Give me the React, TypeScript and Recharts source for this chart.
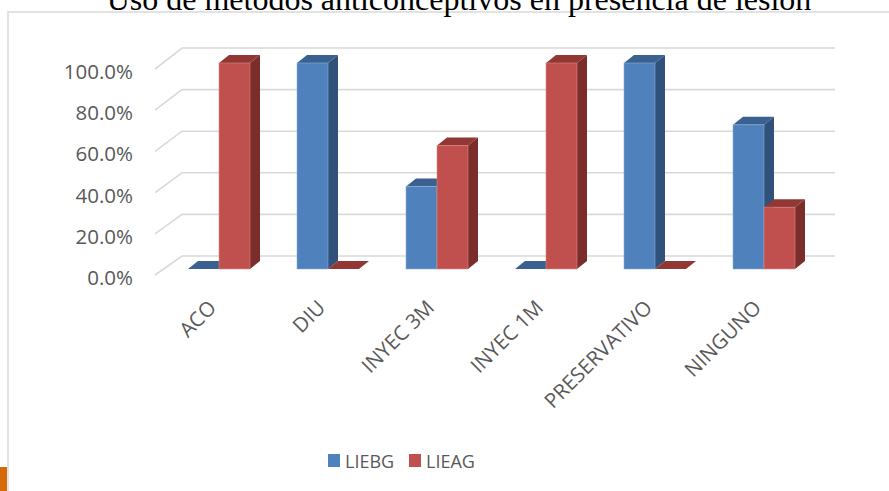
import React from 'react';
import { BarChart, Bar, XAxis, YAxis, CartesianGrid } from 'recharts';

const categories = ['ACO', 'DIU', 'INYEC 3M', 'INYEC 1M', 'PRESERVATIVO', 'NINGUNO'];
const liebgValues = [0, 1, 0.4, 0, 1, 0.7];
const lieagValues = [1, 0, 0.6, 1, 0, 0.3];
const yTicks = [0, 0.2, 0.4, 0.6, 0.8, 1];
const seriesNames = ['LIEBG', 'LIEAG'];
const titleText = 'Uso de métodos anticonceptivos en presencia de lesión';

const data = categories.map((c, i) => ({ cat: c, LIEBG: liebgValues[i], LIEAG: lieagValues[i] }));

const W = 889;
const H = 491;
const FONT = '"Open Sans", sans-serif';
const TEXT_COLOR = '#595959';

const PALETTE: Record<string, { front: string; top: string; side: string; edge: string }> = {
  LIEBG: { front: '#4F81BD', top: '#3A6190', side: '#30527A', edge: '#8FB0DA' },
  LIEAG: { front: '#C0504D', top: '#923734', side: '#7B2D2B', edge: '#DC8C8A' },
};

const DX = 10;
const DY = 8;

const make3D = (key: string) => (props: any) => {
  const { x, y, width, height } = props;
  const c = PALETTE[key];
  const h = Math.max(0, height || 0);
  const top = `M${x},${y} L${x + DX},${y - DY} L${x + width + DX},${y - DY} L${x + width},${y} Z`;
  const side = `M${x + width},${y} L${x + width + DX},${y - DY} L${x + width + DX},${y + h - DY} L${x + width},${y + h} Z`;
  return (
    <g>
      {h > 0 && <path d={side} fill={c.side} />}
      <path d={top} fill={c.top} />
      {h > 0 && <rect x={x} y={y} width={width} height={h} fill={c.front} stroke={c.edge} strokeWidth={0.8} strokeOpacity={0.7} />}
    </g>
  );
};

const gridLine = (p: any) => {
  const y = p.y1;
  const backY = y - 13 - (269 - y) / 103;
  return (
    <g key={`g-${y}`}>
      <path d={`M155,${y + 6} L182,${backY} L835,${backY}`} fill="none" stroke="#D9D9D9" strokeWidth={1.6} />
    </g>
  );
};

const YTick = (p: any) => {
  const { y, payload } = p;
  return (
    <text x={133} y={y + 8} textAnchor="end" dominantBaseline="central" fontFamily={FONT} fontSize={20.5} fill={TEXT_COLOR}>
      {(payload.value * 100).toFixed(1) + '%'}
    </text>
  );
};

const XTick = (p: any) => {
  const { x, payload } = p;
  const ax = x - 1;
  const ay = 309;
  return (
    <text x={ax} y={ay} transform={`rotate(-45 ${ax} ${ay})`} textAnchor="end" fontFamily={FONT} fontSize={20.5} fill={TEXT_COLOR}>
      {payload.value}
    </text>
  );
};

export default function App() {
  return (
    <div style={{ position: 'absolute', left: 0, top: 0, width: W, height: H, overflow: 'hidden', background: '#fff' }}>
      <svg width={W} height={H} style={{ position: 'absolute', left: 0, top: 0 }}>
        <rect x={0} y={0} width={W} height={H} fill="#fff" />
        <path d={`M8,${H} L8,12 L${W},12`} fill="none" stroke="#D9D9D9" strokeWidth={1.5} />
        <rect x={0} y={467} width={7} height={24} fill="#D46B08" />
        <text x={459} y={10} textAnchor="middle" fontFamily='"Liberation Serif", "Times New Roman", serif' fontSize={32} fill="#000">
          {titleText}
        </text>
      </svg>
      <div style={{ position: 'absolute', left: 0, top: 0 }}>
        <BarChart
          width={W}
          height={H}
          data={data}
          margin={{ top: 63, right: 71, bottom: 192, left: 64 }}
          barGap={0}
          barSize={31}
        >
          <CartesianGrid vertical={false} horizontal={gridLine} />
          <XAxis dataKey="cat" axisLine={false} tickLine={false} height={30} interval={0} tick={<XTick />} />
          <YAxis domain={[0, 1]} ticks={yTicks} axisLine={false} tickLine={false} width={100} interval={0} tick={<YTick />} />
          <Bar dataKey="LIEBG" isAnimationActive={false} shape={make3D('LIEBG')} />
          <Bar dataKey="LIEAG" isAnimationActive={false} shape={make3D('LIEAG')} />
        </BarChart>
      </div>
      <svg width={W} height={H} style={{ position: 'absolute', left: 0, top: 0, pointerEvents: 'none' }}>
        <rect x={328} y={454} width={12} height={13} fill={PALETTE.LIEBG.front} />
        <text x={345} y={461} dominantBaseline="central" fontFamily={FONT} fontSize={18} fill={TEXT_COLOR}>{seriesNames[0]}</text>
        <rect x={409} y={454} width={12} height={13} fill={PALETTE.LIEAG.front} />
        <text x={426} y={461} dominantBaseline="central" fontFamily={FONT} fontSize={18} fill={TEXT_COLOR}>{seriesNames[1]}</text>
      </svg>
    </div>
  );
}
